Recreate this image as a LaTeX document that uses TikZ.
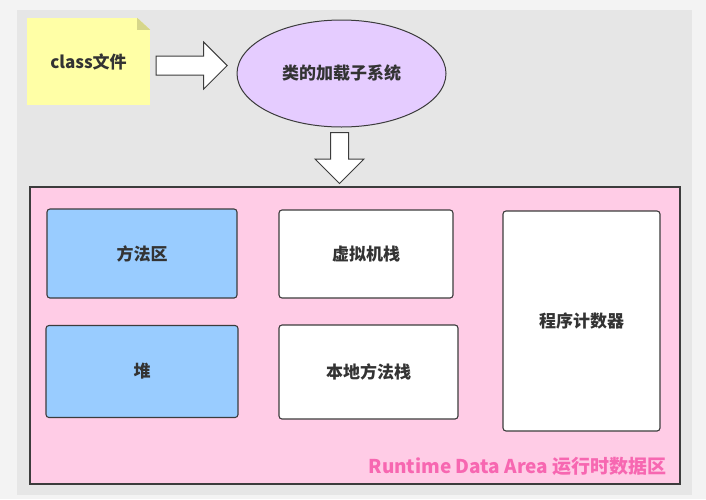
\documentclass[tikz,border=0pt]{standalone}
\usepackage{fontspec}
\setmainfont{Noto Sans CJK SC}
\usetikzlibrary{shapes.geometric,shapes.arrows,positioning,calc}
\definecolor{outerbg}{HTML}{F3F3F3}
\definecolor{panel}{HTML}{E6E6E6}
\definecolor{edge}{HTML}{3C3C3C}
\definecolor{ink}{HTML}{333333}
\definecolor{noteyellow}{HTML}{FFFFA6}
\definecolor{foldolive}{HTML}{D6D68A}
\definecolor{loaderpurple}{HTML}{E5CCFF}
\definecolor{areapink}{HTML}{FFCCE6}
\definecolor{areablue}{HTML}{99CCFF}
\definecolor{labelpink}{HTML}{F767B1}
\begin{document}
\begin{tikzpicture}[x=1pt,y=-1pt,node distance=118pt,
    txt/.style={text=ink, font=\bfseries\fontsize{17}{20}\selectfont},
    mem/.style={txt, rectangle, rounded corners=3pt, draw=edge, line width=1.1pt},
    fatarrow/.style={single arrow, draw=edge, fill=white, line width=1pt, minimum width=0pt, outer sep=0pt, anchor=tail}]
  \useasboundingbox (0,0) rectangle (706,499);
  \fill[outerbg] (0,0) rectangle (706,499);
  \fill[panel] (17,10) rectangle (692,495);

  % top row
  \node(cls)[txt, rectangle, draw=none, fill=noteyellow, minimum width=123, minimum height=87] at (88.5,61.5) {class文件};
  \fill[panel] ([xshift=-13pt]cls.north east) -- (cls.north east) -- ([yshift=-12pt]cls.north east) -- cycle;
  \fill[foldolive] ([xshift=-13pt]cls.north east) -- ([yshift=-12pt]cls.north east) -- ([xshift=-13pt,yshift=-12pt]cls.north east) -- cycle;
  \node(ld)[txt, ellipse, draw=edge, line width=1pt, fill=loaderpurple, minimum width=209, minimum height=107] at (341.5,73.5) {类的加载子系统};

  % runtime data area
  \node(rda)[rectangle, draw=edge, line width=1.1pt, fill=areapink, minimum width=650, minimum height=297] at (355,335.5) {};
  \node(ff)[mem, fill=areablue, minimum width=190, minimum height=89] at (142,253.5) {方法区};
  \node(heap)[mem, fill=areablue, minimum width=192, minimum height=92, below of=ff] {堆};
  \node(vms)[mem, fill=white, minimum width=174, minimum height=88] at (366,254) {虚拟机栈};
  \node(nms)[mem, fill=white, minimum width=179, minimum height=94, below of=vms, xshift=2.5pt] {本地方法栈};
  \node(pc)[mem, fill=white, minimum width=157, minimum height=220] at (581.5,321) {程序计数器};
  \node(lbl)[anchor=east, inner sep=0pt, text=labelpink, font=\bfseries\fontsize{19}{22}\selectfont] at (667,466) {Runtime Data Area 运行时数据区};

  % block arrows
  \node(a1)[fatarrow, inner sep=9pt, single arrow head extend=14pt, minimum height=71] at ([xshift=6pt,yshift=-4pt]cls.east) {};
  \node(a2)[fatarrow, inner sep=8.5pt, single arrow head extend=15.5pt, minimum height=51, shape border rotate=270] at ([yshift=-5pt]ld.south -| 339.5,0) {};

\end{tikzpicture}
\end{document}
